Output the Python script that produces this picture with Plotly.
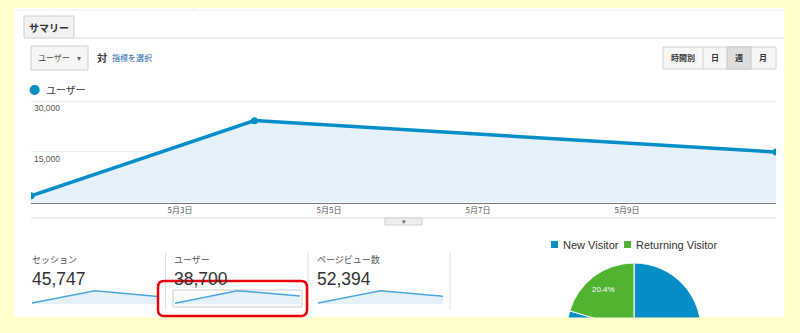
import math
import plotly.graph_objects as go

W, H = 800, 333

# ---------------- data ----------------
dates = ["2014-05-01", "2014-05-04", "2014-05-11"]
users = [2000, 24200, 14900]
y_tick_vals = [15000, 30000]
y_tick_text = ["15,000", "30,000"]
x_tick_vals = ["2014-05-03", "2014-05-05", "2014-05-07", "2014-05-09"]
x_tick_text = ["5月3日", "5月5日", "5月7日", "5月9日"]

metric_names = ["セッション", "ユーザー", "ページビュー数"]
metric_totals = ["45,747", "38,700", "52,394"]
spark_sessions = [3000, 28500, 16500]
spark_users = [2000, 24200, 14900]
spark_pageviews = [3500, 32500, 19500]

visitor_types = ["New Visitor", "Returning Visitor"]
visitor_share = [79.6, 20.4]
visitor_colors = ["#058dc7", "#50b432"]

# ---------------- helpers ----------------
JP = "Noto Sans CJK JP, Liberation Sans, sans-serif"
LAT = "Liberation Sans, Arial, Noto Sans CJK JP, sans-serif"
BLUE = "#058dc7"
FILL = "#e5f1f9"


def px(x):
    return x / W


def py(y):
    return 1 - y / H


def rect(x0, y0, x1, y1, fill=None, line=None, lw=1, layer="below"):
    return dict(type="rect", xref="paper", yref="paper",
                x0=px(x0), x1=px(x1), y0=py(y1), y1=py(y0),
                fillcolor=fill if fill else "rgba(0,0,0,0)",
                line=dict(color=line if line else "rgba(0,0,0,0)", width=lw if line else 0),
                layer=layer)


def hline(x0, x1, y, color, lw=1, layer="below"):
    return dict(type="line", xref="paper", yref="paper", x0=px(x0), x1=px(x1),
                y0=py(y), y1=py(y), line=dict(color=color, width=lw), layer=layer)


def vline(x, y0, y1, color, lw=1, layer="below"):
    return dict(type="line", xref="paper", yref="paper", x0=px(x), x1=px(x),
                y0=py(y0), y1=py(y1), line=dict(color=color, width=lw), layer=layer)


def rrect_path(x0, y0, x1, y1, r):
    rx, ry = r / W, r / H
    X0, X1, Y0, Y1 = px(x0), px(x1), py(y1), py(y0)
    return (f"M{X0+rx},{Y1} L{X1-rx},{Y1} Q{X1},{Y1} {X1},{Y1-ry} "
            f"L{X1},{Y0+ry} Q{X1},{Y0} {X1-rx},{Y0} L{X0+rx},{Y0} "
            f"Q{X0},{Y0} {X0},{Y0+ry} L{X0},{Y1-ry} Q{X0},{Y1} {X0+rx},{Y1} Z")


def text(x, y, s, size=10, color="#333", family=JP, xanchor="left", bold=False):
    if bold:
        s = f"<b>{s}</b>"
    return dict(xref="paper", yref="paper", x=px(x), y=py(y), text=s, showarrow=False,
                xanchor=xanchor, yanchor="middle", font=dict(size=size, color=color, family=family))


fig = go.Figure()

# ---------------- main chart ----------------
fig.add_trace(go.Scatter(
    x=dates, y=users, mode="lines+markers", fill="tozeroy", fillcolor=FILL,
    line=dict(color=BLUE, width=3.5), marker=dict(color=BLUE, size=7),
    name="ユーザー", showlegend=False, xaxis="x", yaxis="y"))

# ---------------- sparklines ----------------
spark_sets = [spark_sessions, spark_users, spark_pageviews]
spark_x = [(32, 158), (175, 300), (318, 443)]
base_px, peak_px, head = 304.5, 290.7, 1.08
layout_axes = {}
for i, (vals, (sx0, sx1)) in enumerate(zip(spark_sets, spark_x)):
    n = i + 2
    fig.add_trace(go.Scatter(
        x=list(range(len(vals))), y=vals, mode="lines", fill="tozeroy",
        fillcolor=FILL, line=dict(color="#4ba5dc", width=1.5),
        showlegend=False, hoverinfo="skip", xaxis=f"x{n}", yaxis=f"y{n}"))
    top_px = base_px - head * (base_px - peak_px)
    layout_axes[f"xaxis{n}"] = dict(domain=[px(sx0), px(sx1)], range=[0, len(vals) - 1],
                                    visible=False, anchor=f"y{n}")
    layout_axes[f"yaxis{n}"] = dict(domain=[py(base_px), py(top_px)], range=[0, max(vals) * head],
                                    visible=False, anchor=f"x{n}")

# ---------------- pie (visitor types) ----------------
cx, cy, R = 634, 330, 67
cum = 0.0
pie_labels = []
for name, share, color in zip(visitor_types, visitor_share, visitor_colors):
    w = share / 100 * 360
    th = cum + w / 2
    cum += w
    fig.add_trace(go.Barpolar(r=[1], theta=[th], width=[w], name=name,
                              marker=dict(color=color, line=dict(color="white", width=1)),
                              showlegend=False, subplot="polar"))
    lx = cx + 0.75 * R * math.sin(math.radians(th))
    ly = cy - 0.75 * R * math.cos(math.radians(th))
    if ly < 312:
        pie_labels.append(text(lx, ly, f"{share:.1f}%", size=8, color="white", family=LAT, xanchor="center"))

# ---------------- chrome shapes ----------------
shapes = [
    rect(14, 8, 784, 317, fill="white"),
    hline(14, 784, 10, "#eeeeee"),
    vline(53, 8, 10, "#e6e6e6"), vline(194, 8, 10, "#e6e6e6"),
    # tab
    rect(24, 16, 74, 38, fill="#f2f2f2", line="#cccccc"),
    hline(74, 784, 38, "#dddddd"),
    # dropdown
    rect(31, 46, 88, 70, fill="#f5f5f5", line="#cccccc"),
    # period buttons
    rect(663, 47, 776, 69, fill="#f6f6f6", line="#d0d0d0"),
    rect(727, 47, 751, 69, fill="#dedede", line="#c8c8c8"),
    vline(703, 47, 69, "#d0d0d0"),
    # below chart
    hline(31, 776, 218, "#dddddd"),
    rect(385, 218, 422, 225, fill="#eeeeee", line="#cccccc"),
    # dividers
    vline(165.5, 253, 310, "#dddddd"),
    vline(308, 253, 310, "#dddddd"),
    vline(450, 253, 310, "#dddddd"),
    # selected sparkline box
    rect(173, 290, 302, 307, fill="#fbfbfb", line="#cccccc"),
    # cover bottom of pie
    rect(440, 317.5, 800, 333, fill="#ffffcc", layer="above"),
    # red highlight
    dict(type="path", xref="paper", yref="paper", path=rrect_path(158, 281, 307, 316, 6),
         line=dict(color="#e8000b", width=2.5), fillcolor="rgba(0,0,0,0)", layer="above"),
]

annotations = [
    text(49, 27, "サマリー", size=10, color="#333", bold=True, xanchor="center"),
    text(36, 58, "ユーザー", size=8, color="#444"),
    text(79, 58, "▾", size=8, color="#666", xanchor="center"),
    text(95, 57, "対", size=10, color="#333", bold=True),
    text(110, 58, "指標を選択", size=8, color="#1a5fa8"),
    text(683, 58, "時間別", size=8, color="#333", bold=True, xanchor="center"),
    text(715, 58, "日", size=8, color="#333", bold=True, xanchor="center"),
    text(739, 58, "週", size=8, color="#333", bold=True, xanchor="center"),
    text(763, 58, "月", size=8, color="#333", bold=True, xanchor="center"),
    text(34, 89, "●", size=11, color=BLUE, xanchor="center"),
    text(44, 89, "ユーザー", size=10, color="#333"),
    text(404, 221, "▾", size=7, color="#666", xanchor="center"),
]
for i, (nm, tot) in enumerate(zip(metric_names, metric_totals)):
    x0 = [30, 172, 315][i]
    annotations.append(text(x0, 259, nm, size=9, color="#555"))
    annotations.append(text(x0, 279, tot, size=17.5, color="#333", family=LAT))
# pie legend
leg_x = [551, 624]
for lx, name, color in zip(leg_x, visitor_types, visitor_colors):
    shapes.append(rect(lx, 241, lx + 7, 248, fill=color))
    annotations.append(text(lx + 10, 244.5, name, size=11, color="#333", family=LAT))
annotations += pie_labels

# y range slightly above 30,000 so the 30,000 gridline is drawn
y_top = 30300
y0_px, y30k_px = 202.5, 101.0
y_top_px = y0_px - (y0_px - y30k_px) * y_top / 30000

fig.update_layout(
    width=W, height=H, margin=dict(l=0, r=0, t=0, b=0),
    paper_bgcolor="#ffffcc", plot_bgcolor="rgba(0,0,0,0)",
    showlegend=False,
    xaxis=dict(type="date", domain=[px(31), px(776)], range=["2014-05-01", "2014-05-11"],
               tickvals=x_tick_vals, ticktext=x_tick_text, showgrid=False, zeroline=False,
               showline=True, linecolor="#777777", linewidth=1, ticks="",
               tickfont=dict(size=8, color="#555", family=JP), anchor="y"),
    yaxis=dict(domain=[py(y0_px), py(y_top_px)], range=[0, y_top], tickvals=y_tick_vals,
               ticktext=y_tick_text, showgrid=True, gridcolor="#eeeeee", gridwidth=1,
               zeroline=False, showline=False, ticks="", ticklabelposition="inside",
               ticklabelshift=7, tickfont=dict(size=8.5, color="#555", family=LAT), anchor="x"),
    polar=dict(domain=dict(x=[px(cx - R), px(cx + R)], y=[py(cy), py(cy - R)]),
               sector=[0, 180], bgcolor="rgba(0,0,0,0)", hole=0,
               radialaxis=dict(visible=False, range=[0, 1]),
               angularaxis=dict(visible=False, rotation=90, direction="clockwise"),
               barmode="overlay"),
    shapes=shapes, annotations=annotations,
    **layout_axes,
)

fig.write_html("out.html")
